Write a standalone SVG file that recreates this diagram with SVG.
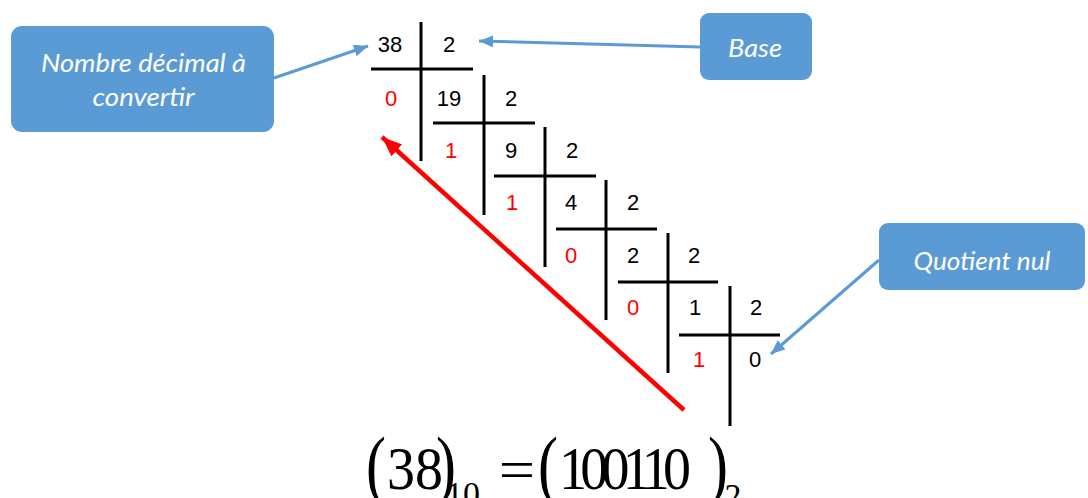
<svg xmlns="http://www.w3.org/2000/svg" width="1088" height="498" viewBox="0 0 1088 498">
  <style>
    .box { fill: #5B9BD5; }
    .lbl { font-family: Lato, "Open Sans", sans-serif; font-style: italic; font-size: 25px; fill: #FFFFFF; text-anchor: middle; }
    .g { stroke: #000000; stroke-width: 3; fill: none; }
    .n { font-family: "Liberation Sans", Arial, sans-serif; font-size: 22px; fill: #000000; text-anchor: middle; }
    .r { fill: #FF0000; }
    .f { font-family: "Liberation Serif", "Times New Roman", serif; fill: #000000; text-anchor: middle; }
    .p { font-size: 60px; }
    .d { font-size: 56px; }
    .s { font-size: 34px; }
    .blue { stroke: #5B9BD5; stroke-width: 3; fill: none; marker-end: url(#ab); }
    .red { stroke: #FF0000; stroke-width: 4.5; fill: none; marker-end: url(#ar); }
  </style>
  <defs>
    <marker id="ab" markerUnits="userSpaceOnUse" markerWidth="16" markerHeight="14" refX="14" refY="6" orient="auto">
      <path d="M0,0 L14,6 L0,12 Z" fill="#5B9BD5"/>
    </marker>
    <marker id="ar" markerUnits="userSpaceOnUse" markerWidth="22" markerHeight="18" refX="20" refY="8" orient="auto">
      <path d="M0,0 L20,8 L0,16 Z" fill="#FF0000"/>
    </marker>
  </defs>

  <g id="node-nombre">
    <rect class="box" x="11" y="26" width="263" height="106" rx="11"/>
    <text class="lbl" x="143.5" y="72" textLength="205" lengthAdjust="spacingAndGlyphs">Nombre décimal à</text>
    <text class="lbl" x="143.5" y="106" textLength="102" lengthAdjust="spacingAndGlyphs">convertir</text>
  </g>

  <g id="node-base">
    <rect class="box" x="700" y="13" width="112" height="67" rx="9"/>
    <text class="lbl" x="755" y="57" textLength="54" lengthAdjust="spacingAndGlyphs">Base</text>
  </g>

  <g id="node-quotient">
    <rect class="box" x="879" y="223" width="206" height="67" rx="9"/>
    <text class="lbl" x="982" y="270" textLength="137" lengthAdjust="spacingAndGlyphs">Quotient nul</text>
  </g>

  <g id="node-division">
    <g class="g">
      <line x1="421" y1="22" x2="421" y2="161"/>
      <line x1="371" y1="69" x2="473" y2="69"/>
      <line x1="484" y1="75" x2="484" y2="215"/>
      <line x1="433" y1="123" x2="535" y2="123"/>
      <line x1="545" y1="127" x2="545" y2="267"/>
      <line x1="494" y1="176" x2="596" y2="176"/>
      <line x1="606" y1="180" x2="606" y2="320"/>
      <line x1="556" y1="229" x2="657" y2="229"/>
      <line x1="668" y1="233" x2="668" y2="373"/>
      <line x1="618" y1="282" x2="718" y2="282"/>
      <line x1="730" y1="286" x2="730" y2="426"/>
      <line x1="679" y1="335" x2="780" y2="335"/>
    </g>
    <text class="n" x="390" y="52">38</text>
    <text class="n" x="449" y="52">2</text>

    <text class="n r" x="391" y="106">0</text>
    <text class="n" x="449" y="106">19</text>
    <text class="n" x="511" y="106">2</text>

    <text class="n r" x="451" y="158">1</text>
    <text class="n" x="511" y="158">9</text>
    <text class="n" x="572" y="158">2</text>

    <text class="n r" x="512" y="210">1</text>
    <text class="n" x="571" y="210">4</text>
    <text class="n" x="633" y="210">2</text>

    <text class="n r" x="571" y="263">0</text>
    <text class="n" x="633" y="263">2</text>
    <text class="n" x="694" y="263">2</text>

    <text class="n r" x="633" y="315">0</text>
    <text class="n" x="695" y="315">1</text>
    <text class="n" x="756" y="315">2</text>

    <text class="n r" x="699" y="367">1</text>
    <text class="n" x="755" y="367">0</text>
  </g>

  <g id="node-formula">
    <text class="f p" transform="translate(376,491) scale(1,1.3)">(</text>
    <text class="f d" transform="translate(415,489) scale(1,1.1)">38</text>
    <text class="f p" transform="translate(446,491) scale(1,1.3)">)</text>
    <text class="f s" x="463" y="505">10</text>
    <text class="f d" transform="translate(517,489) scale(1.15,1)">=</text>
    <text class="f p" transform="translate(548,491) scale(1,1.3)">(</text>
    <text class="f d" transform="translate(625,489) scale(1,1.1)" textLength="132" lengthAdjust="spacing">100110</text>
    <text class="f p" transform="translate(718,491) scale(1,1.3)">)</text>
    <text class="f s" x="733" y="507">2</text>
  </g>

  <g id="connectors">
    <line class="blue" x1="274" y1="78" x2="368" y2="46"/>
    <line class="blue" x1="700" y1="47" x2="479" y2="41"/>
    <line class="blue" x1="879" y1="260" x2="771" y2="354"/>
    <line class="red" x1="684" y1="410" x2="382" y2="137"/>
  </g>
</svg>
